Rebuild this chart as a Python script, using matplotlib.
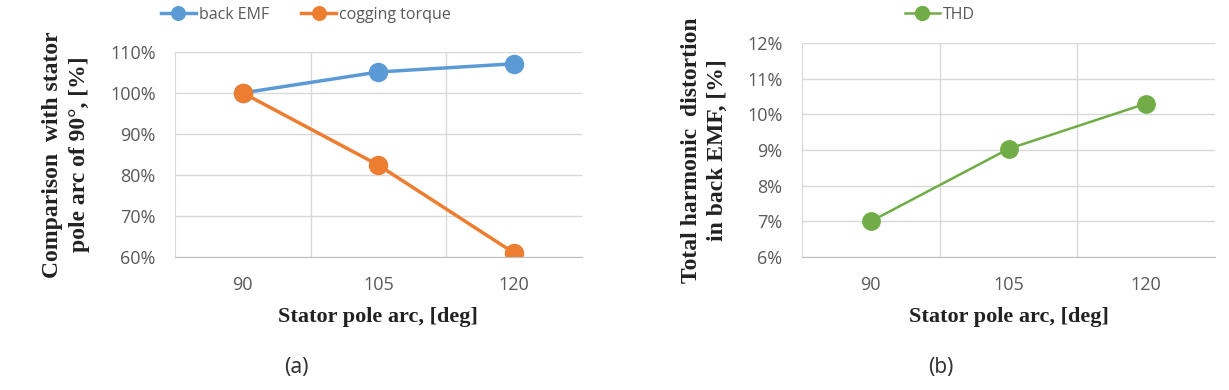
import matplotlib.pyplot as plt
from matplotlib.ticker import FuncFormatter

# data
arc = ['90', '105', '120']
back_emf = [100, 105.1, 107.1]
cogging = [100, 82.4, 61]
thd = [7.0, 9.03, 10.3]

blue = '#5B9BD5'
orange = '#ED7D31'
green = '#70AD47'
gray = '#595959'
grid = '#D9D9D9'

tick_font = ['Open Sans', 'DejaVu Sans']
label_font = 'Liberation Serif'

fig = plt.figure(figsize=(12.29, 3.90), dpi=100)
ax1 = fig.add_axes([0.1424, 0.341, 0.331, 0.526])
ax2 = fig.add_axes([0.6526, 0.341, 0.336, 0.549])

x = list(range(len(arc)))


def style(ax, ylo, yhi, step):
    ax.set_xlim(-0.5, 2.5)
    ax.set_ylim(ylo, yhi)
    ax.set_yticks([ylo + i * step for i in range(int(round((yhi - ylo) / step)) + 1)])
    ax.set_xticks(x)
    ax.set_xticklabels(arc)
    ax.set_xticks([0.5, 1.5], minor=True)
    ax.yaxis.set_major_formatter(FuncFormatter(lambda v, p: '%d%%' % round(v)))
    ax.grid(True, axis='y', color=grid, linewidth=1)
    ax.grid(True, axis='x', which='minor', color=grid, linewidth=1)
    ax.tick_params(which='both', length=0, colors=gray, labelsize=13)
    ax.tick_params(axis='y', pad=14)
    ax.tick_params(axis='x', pad=14)
    for lab in ax.get_xticklabels() + ax.get_yticklabels():
        lab.set_family(tick_font)
    for s in ['top', 'right']:
        ax.spines[s].set_visible(False)
    ax.spines['left'].set_color(grid)
    ax.spines['bottom'].set_color('#BFBFBF')
    ax.set_axisbelow(True)
    ax.set_xlabel('Stator pole arc, [deg]', family=label_font, fontweight='bold',
                  fontsize=16, color='#222222', labelpad=9)


# (a)
style(ax1, 60, 110, 10)
ax1.plot(x, back_emf, '-o', color=blue, linewidth=2.5, markersize=13, label='back EMF')
ax1.plot(x, cogging, '-o', color=orange, linewidth=2.5, markersize=13, label='cogging torque')
ax1.set_ylabel('Comparison  with stator\npole arc of 90°, [%]', family=label_font,
               fontweight='bold', fontsize=17, color='#222222', labelpad=14,
               linespacing=1.4)
leg1 = ax1.legend(loc='center', bbox_to_anchor=(306 / 1229, 1 - 15 / 390),
                  bbox_transform=fig.transFigure, ncol=2, frameon=False,
                  markerscale=0.75, handlelength=2.2, columnspacing=2.0,
                  handletextpad=0.2, prop={'family': tick_font, 'size': 11.5})
for t in leg1.get_texts():
    t.set_color(gray)

# (b)
style(ax2, 6, 12, 1)
ax2.plot(x, thd, '-o', color=green, linewidth=1.8, markersize=12.5, label='THD')
ax2.set_ylabel('Total harmonic  distortion\nin back EMF, [%]', family=label_font,
               fontweight='bold', fontsize=17, color='#222222', labelpad=14,
               linespacing=1.3)
leg2 = ax2.legend(loc='center', bbox_to_anchor=(940 / 1229, 1 - 15 / 390),
                  bbox_transform=fig.transFigure, frameon=False,
                  markerscale=0.8, handlelength=2.2, handletextpad=0.2,
                  prop={'family': tick_font, 'size': 11.5})
for t in leg2.get_texts():
    t.set_color(gray)

fig.text(296 / 1229, 1 - 367 / 390, '(a)', ha='center', va='center',
         fontsize=15, color='#333333', family=['Noto Sans', 'DejaVu Sans'])
fig.text(941 / 1229, 1 - 367 / 390, '(b)', ha='center', va='center',
         fontsize=15, color='#333333', family=['Noto Sans', 'DejaVu Sans'])

fig.savefig('out.png', dpi=100)
